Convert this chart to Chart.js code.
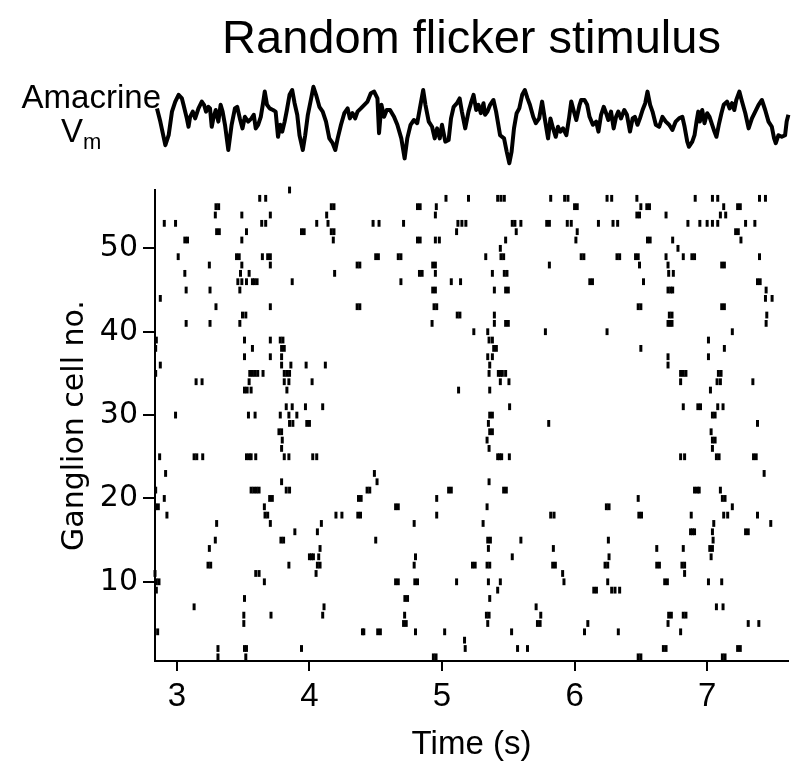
<!DOCTYPE html>
<html>
<head>
<meta charset="utf-8">
<script src="https://cdn.jsdelivr.net/npm/chart.js@4.4.0/dist/chart.umd.min.js"></script>
<style>
    html, body { margin: 0; padding: 0; background: #fff; }
    #wrap { position: relative; width: 795px; height: 770px; }
    #rasterChart { position: absolute; left: 0; top: 0; }
    .vmLabel {
        position: absolute;
        font-family: "Liberation Sans", Arial, sans-serif;
        color: #000;
        line-height: 1;
        white-space: nowrap;
    }
</style>
</head>
<body>
<div id="wrap">
    <canvas id="rasterChart" width="795" height="770"></canvas>
    <div class="vmLabel" style="left:0; width:161px; text-align:right; top:80px; font-size:33px;">Amacrine</div>
    <div class="vmLabel" style="left:61px; top:114px; font-size:33px;">V<span style="font-size:22px; position:relative; top:7px;">m</span></div>
</div>
<script>
// axis ticks
const timeTicks = [3, 4, 5, 6, 7];
const cellTicks = [10, 20, 30, 40, 50];

// spike times (s) for ganglion cells 1..57
const spikeTrains = [
    /* 1 */  [3.31, 3.52, 4.935, 4.955, 6.48, 6.50, 7.115, 7.135],
    /* 2 */  [3.31, 3.51, 3.525, 3.94, 5.175, 5.57, 5.645, 6.67, 6.69, 7.23, 7.25],
    /* 3 */  [5.17],
    /* 4 */  [2.855, 4.40, 4.41, 4.515, 4.535, 4.80, 5.02, 5.525, 6.075, 6.33, 6.80],
    /* 5 */  [3.505, 4.71, 4.73, 5.345, 5.72, 5.74, 6.10, 6.705, 7.31, 7.39],
    /* 6 */  [3.505, 3.71, 4.10, 4.718, 5.335, 5.355, 5.745, 6.71, 6.73, 6.82, 6.84],
    /* 7 */  [3.13, 4.11, 5.71, 7.07, 7.12],
    /* 8 */  [3.51, 4.72, 4.74, 5.36],
    /* 9 */  [2.845, 5.42, 6.145, 6.165, 6.28, 6.305, 6.34],
    /* 10 */ [2.845, 2.865, 3.66, 4.65, 4.67, 4.795, 4.815, 5.11, 5.35, 5.44, 5.92, 6.25, 6.68, 6.70, 7.01, 7.11],
    /* 11 */ [2.835, 3.595, 3.62, 4.05, 5.91, 6.83],
    /* 12 */ [3.235, 3.255, 3.845, 4.06, 4.08, 4.79, 5.23, 5.25, 5.34, 5.36, 5.835, 5.855, 6.23, 6.25, 6.62, 6.64, 6.81, 6.83],
    /* 13 */ [4.00, 4.015, 4.03, 4.07, 4.80, 5.53, 6.26, 7.03],
    /* 14 */ [3.245, 4.08, 5.35, 5.84, 6.62, 6.82, 7.02, 7.04],
    /* 15 */ [3.29, 3.785, 3.805, 4.50, 5.345, 5.365, 5.595, 6.255, 7.045],
    /* 16 */ [3.89, 4.06, 6.875, 6.89, 6.905, 7.04, 7.29, 7.31],
    /* 17 */ [3.30, 3.705, 4.09, 4.79, 5.31, 7.05, 7.48],
    /* 18 */ [2.925, 3.665, 3.685, 4.20, 4.245, 4.365, 4.385, 4.96, 5.82, 5.845, 6.485, 6.505, 6.88, 7.125, 7.155, 7.38],
    /* 19 */ [2.84, 2.86, 3.66, 4.65, 4.67, 5.34, 6.24, 6.26, 7.19],
    /* 20 */ [2.905, 3.70, 3.72, 4.37, 4.39, 4.96, 6.48, 7.115, 7.135],
    /* 21 */ [2.84, 3.56, 3.58, 3.60, 3.62, 3.825, 3.85, 4.435, 4.455, 5.05, 5.07, 5.465, 5.485, 6.905, 6.925, 6.94, 7.10],
    /* 22 */ [3.79, 4.51, 5.355],
    /* 23 */ [2.915, 4.49, 7.43],
    /* 24 */ [],
    /* 25 */ [2.87, 3.13, 3.15, 3.195, 3.525, 3.545, 3.56, 3.595, 3.81, 3.845, 4.025, 4.055, 5.42, 5.435, 5.45, 5.508, 6.80, 6.83, 7.07, 7.09, 7.35, 7.37],
    /* 26 */ [3.79, 5.355, 7.04],
    /* 27 */ [3.795, 5.34, 7.04, 7.06],
    /* 28 */ [3.77, 3.79, 5.36, 5.38, 7.03],
    /* 29 */ [3.85, 3.875, 3.98, 4.00, 5.35, 5.805, 7.38],
    /* 30 */ [2.99, 3.54, 3.59, 3.78, 3.845, 3.905, 5.36, 5.38, 7.04, 7.06],
    /* 31 */ [3.825, 3.87, 3.97, 4.10, 5.51, 6.82, 6.93, 6.95, 7.08, 7.12],
    /* 32 */ [],
    /* 33 */ [3.51, 3.53, 3.56, 3.83, 5.125, 5.36, 7.025],
    /* 34 */ [3.145, 3.19, 3.545, 3.81, 3.845, 4.02, 5.44, 5.505, 6.80, 7.075, 7.10, 7.345],
    /* 35 */ [2.84, 3.55, 3.57, 3.59, 3.61, 3.65, 3.81, 3.83, 3.85, 5.355, 5.425, 5.44, 5.455, 5.48, 6.80, 6.82, 6.84, 7.085, 7.105],
    /* 36 */ [2.875, 3.79, 3.86, 3.975, 4.12, 5.36, 6.705],
    /* 37 */ [3.51, 3.705, 3.79, 5.345, 5.38, 6.705, 7.01],
    /* 38 */ [2.84, 3.57, 3.79, 3.81, 5.39, 5.41, 6.50, 7.13],
    /* 39 */ [2.845, 3.51, 3.705, 3.78, 3.80, 5.355, 5.38, 7.01],
    /* 40 */ [5.24, 5.345, 5.78, 6.245, 7.19],
    /* 41 */ [3.07, 3.25, 3.475, 4.925, 5.395, 5.48, 5.50, 6.705, 6.72, 6.735, 7.445],
    /* 42 */ [3.495, 3.52, 5.115, 5.135, 5.395, 6.715, 6.735, 7.45],
    /* 43 */ [3.295, 3.705, 4.36, 4.38, 4.94, 4.96, 6.48, 6.50, 7.11, 7.13],
    /* 44 */ [2.875, 7.44, 7.49],
    /* 45 */ [3.07, 3.25, 3.475, 4.93, 4.95, 5.395, 5.48, 5.50, 6.705, 6.725, 6.74, 7.445],
    /* 46 */ [3.46, 3.49, 3.525, 3.57, 3.585, 3.605, 3.87, 4.69, 5.07, 5.14, 6.115, 6.135, 6.52, 7.38, 7.40],
    /* 47 */ [3.06, 3.48, 3.545, 4.19, 4.83, 4.85, 4.95, 5.38, 5.47, 5.49, 6.71, 6.745],
    /* 48 */ [3.245, 3.49, 3.705, 4.36, 4.38, 4.93, 4.95, 5.81, 6.49, 6.705, 7.11, 7.13],
    /* 49 */ [3.01, 3.45, 3.47, 3.645, 3.685, 3.705, 4.50, 4.52, 4.67, 4.69, 5.33, 5.445, 5.465, 6.05, 6.07, 6.32, 6.34, 6.46, 6.48, 6.69, 6.82, 6.885, 6.905, 7.395],
    /* 50 */ [5.44, 6.78],
    /* 51 */ [3.06, 3.08, 3.49, 4.18, 4.815, 4.835, 4.95, 4.98, 5.48, 6.01, 6.55, 6.57, 6.74, 7.255],
    /* 52 */ [3.30, 3.32, 3.525, 3.94, 3.96, 4.165, 4.185, 5.11, 5.56, 6.02, 7.215, 7.235],
    /* 53 */ [2.905, 2.99, 3.64, 3.67, 4.055, 4.14, 4.48, 4.525, 4.71, 5.12, 5.15, 5.18, 5.53, 5.55, 5.595, 5.79, 5.81, 5.945, 5.975, 6.18, 6.29, 6.325, 6.855, 6.945, 7.00, 7.04, 7.08, 7.29, 7.36],
    /* 54 */ [3.29, 3.49, 3.705, 4.13, 4.95, 6.47, 6.49, 6.69, 7.10, 7.14],
    /* 55 */ [3.295, 3.315, 4.165, 4.185, 4.815, 4.835, 4.957, 6.00, 6.02, 6.50, 6.545, 6.565, 7.125, 7.23, 7.25],
    /* 56 */ [3.625, 3.67, 5.03, 5.20, 5.42, 5.445, 5.47, 5.82, 5.925, 5.95, 6.245, 6.28, 6.47, 6.91, 7.04, 7.08, 7.395, 7.44],
    /* 57 */ [3.85]
];

// amacrine membrane potential trace (relative mV)
const vmTime = [
    2.85, 2.875, 2.913, 2.938, 2.963, 2.988, 3.013, 3.038, 3.05, 3.075, 3.088, 3.1, 3.12, 3.138, 3.163, 3.188,
    3.205, 3.22, 3.238, 3.25, 3.263, 3.275, 3.293, 3.313, 3.33, 3.345, 3.363, 3.388, 3.413, 3.438, 3.455, 3.475,
    3.495, 3.513, 3.538, 3.563, 3.58, 3.595, 3.613, 3.633, 3.65, 3.663, 3.68, 3.7, 3.725, 3.745, 3.763, 3.78,
    3.795, 3.813, 3.83, 3.85, 3.87, 3.888, 3.908, 3.925, 3.95, 3.968, 3.988, 4.013, 4.03, 4.05, 4.075, 4.1,
    4.125, 4.15, 4.175, 4.195, 4.213, 4.238, 4.263, 4.288, 4.305, 4.325, 4.345, 4.363, 4.388,
    4.438, 4.463, 4.488, 4.513, 4.525, 4.543, 4.563, 4.583, 4.608, 4.638, 4.663, 4.693, 4.718, 4.738, 4.763, 4.788,
    4.813, 4.833, 4.858, 4.875, 4.9, 4.925, 4.945, 4.963, 4.983, 5.0, 5.025, 5.05, 5.068, 5.088, 5.113, 5.133,
    5.15, 5.175, 5.2, 5.218, 5.238, 5.258, 5.275, 5.293, 5.313, 5.325, 5.343, 5.363, 5.388, 5.408, 5.438, 5.468,
    5.488, 5.508, 5.525, 5.543, 5.563, 5.583, 5.605, 5.625, 5.645, 5.663, 5.688, 5.708, 5.733, 5.755, 5.775, 5.8,
    5.818, 5.838, 5.858, 5.875, 5.893, 5.913, 5.938, 5.958, 5.975, 5.995, 6.013, 6.038,
    6.05, 6.075, 6.095, 6.113, 6.138, 6.163, 6.18, 6.2, 6.22, 6.238, 6.255, 6.275, 6.295, 6.313, 6.33, 6.35,
    6.375, 6.395, 6.418, 6.438, 6.455, 6.475, 6.493, 6.513, 6.533, 6.55, 6.57, 6.588, 6.613, 6.638, 6.663, 6.688,
    6.713, 6.738, 6.763, 6.788, 6.813, 6.83, 6.85, 6.863, 6.888, 6.905, 6.92, 6.933, 6.945, 6.963, 6.98, 7.0,
    7.018, 7.038, 7.055, 7.07, 7.088, 7.108, 7.125, 7.15, 7.17, 7.188, 7.205, 7.22, 7.243, 7.263, 7.288, 7.313,
    7.338, 7.363, 7.388, 7.413, 7.438, 7.463, 7.488, 7.505, 7.518, 7.538, 7.563, 7.588, 7.6, 7.613
];
const vmValue = [
    5.4, 2.1, -3.8, -1.3, 4.6, 7.1, 8.8, 7.9, 6.3, 2.9, 0.8, 3.3, 4.6, 2.9, 5.4, 7.1,
    6.3, 4.6, 5.8, 5.4, 0.8, 2.9, 5.0, 2.1, 6.3, 4.6, 1.3, -5.0, 1.3, 5.4, 5.8, 2.9,
    0.4, 3.3, 2.1, 2.9, 3.8, 0.4, 1.3, 3.3, 6.7, 9.6, 6.3, 5.4, 5.0, 4.6, -1.7, 1.3,
    -0.4, 2.1, 5.0, 8.8, 10.0, 6.7, 3.8, -1.3, -5.0, -1.3, 3.8, 7.9, 10.8, 8.8, 5.8, 4.6,
    2.1, -2.1, -3.3, -5.0, -2.1, 1.3, 4.2, 5.4, 2.9, 4.2, 2.9, 4.6, 5.4,
    7.1, 9.2, 9.6, 7.9, -0.8, 6.3, 3.3, 5.0, 5.0, 3.3, 1.3, -2.1, -7.1, -2.1, 1.3, 2.5,
    1.7, 5.4, 10.0, 6.3, 2.1, 0.8, -2.1, 0.4, -2.1, 1.3, -2.9, -2.5, 2.9, 5.8, 6.7, 7.9,
    4.6, 0.4, 4.6, 6.7, 8.8, 5.0, 6.3, 4.2, 6.7, 3.8, 4.6, 6.3, 7.5, 4.6, -1.3, -2.1,
    -5.4, -8.3, -5.4, 0.4, 4.2, 5.4, 8.8, 10.0, 7.9, 6.3, 3.3, 1.7, 2.9, 7.1, 2.9, -2.1,
    2.9, 0.4, -1.7, 0.8, -0.4, 0.4, -1.3, 2.9, 7.1, 4.6, 2.5, 6.3,
    7.5, 7.5, 6.3, 3.3, 1.3, 2.1, -0.4, 3.8, 5.8, 4.2, 2.5, 4.6, 0.4, 3.3, 4.6, 2.9,
    5.0, 3.8, -0.4, 2.9, 3.3, 1.3, 2.9, 5.0, 6.7, 9.6, 6.3, 4.6, 1.3, 0.8, 3.3, 2.1,
    1.3, 0.0, 2.1, 2.9, 3.3, 0.8, -2.9, -4.2, -2.9, -1.3, 2.1, 4.6, 2.1, 5.0, 1.7, 4.2,
    3.3, 1.3, -0.4, -1.7, 1.3, 4.2, 6.3, 7.1, 5.4, 6.7, 5.0, 7.5, 9.6, 7.1, 4.2, 0.4,
    2.9, 4.6, 6.3, 7.5, 5.0, 2.1, 0.8, -2.1, -3.3, -1.3, -1.7, -1.3, 2.1, 3.8
];

const spikePoints = [];
spikeTrains.forEach((times, i) => {
    times.forEach(t => spikePoints.push({ x: t, y: i + 1 }));
});
const vmPoints = vmTime.map((t, i) => ({ x: t, y: vmValue[i] }));

const sansFont = "'Liberation Sans', Arial, sans-serif";
const tickFont = "'DejaVu Sans', Verdana, sans-serif";

const ctx = document.getElementById("rasterChart").getContext("2d");
new Chart(ctx, {
    type: "scatter",
    data: {
        datasets: [
            {
                label: "Amacrine Vm",
                type: "line",
                data: vmPoints,
                yAxisID: "yv",
                borderColor: "#000",
                borderWidth: 4,
                borderJoinStyle: "round",
                pointRadius: 0,
                tension: 0,
                clip: false
            },
            {
                label: "Spikes",
                data: spikePoints,
                yAxisID: "y",
                pointStyle: "line",
                pointRotation: 90,
                pointRadius: 3.4,
                pointBorderWidth: 3,
                pointBorderColor: "#000",
                pointBackgroundColor: "#000",
                clip: false
            }
        ]
    },
    options: {
        responsive: false,
        animation: false,
        events: [],
        layout: { padding: { left: 0, right: 3, top: 0, bottom: 0 } },
        plugins: {
            legend: { display: false },
            tooltip: { enabled: false },
            title: {
                display: true,
                text: "Random flicker stimulus",
                fullSize: false,
                color: "#000",
                font: { family: sansFont, size: 47, weight: "normal" },
                padding: { top: 12, bottom: 121.6 }
            }
        },
        scales: {
            x: {
                type: "linear",
                min: 2.835,
                max: 7.61,
                afterBuildTicks: (s) => { s.ticks = timeTicks.map(v => ({ value: v })); },
                afterFit: (s) => { s.height = 109; },
                grid: { drawOnChartArea: false, tickLength: 10, color: "#000", lineWidth: 2 },
                border: { color: "#000", width: 2 },
                ticks: { color: "#000", font: { family: sansFont, size: 33 }, padding: 6, maxRotation: 0 },
                title: {
                    display: true,
                    text: "Time (s)",
                    color: "#000",
                    font: { family: sansFont, size: 33 },
                    padding: { top: 0, bottom: 5 }
                }
            },
            y: {
                type: "linear",
                position: "left",
                min: 0.5,
                max: 57,
                afterBuildTicks: (s) => { s.ticks = cellTicks.map(v => ({ value: v })); },
                afterFit: (s) => { s.width = 155; },
                grid: { drawOnChartArea: false, tickLength: 12, color: "#000", lineWidth: 2 },
                border: { color: "#000", width: 2 },
                ticks: { color: "#000", font: { family: tickFont, size: 30 }, padding: 5 },
                title: {
                    display: true,
                    text: "Ganglion cell no.",
                    color: "#000",
                    font: { family: tickFont, size: 30 },
                    padding: { top: 57, bottom: 0 }
                }
            },
            yv: {
                type: "linear",
                display: false,
                min: -132.75,
                max: -15
            }
        }
    }
});
</script>
</body>
</html>
